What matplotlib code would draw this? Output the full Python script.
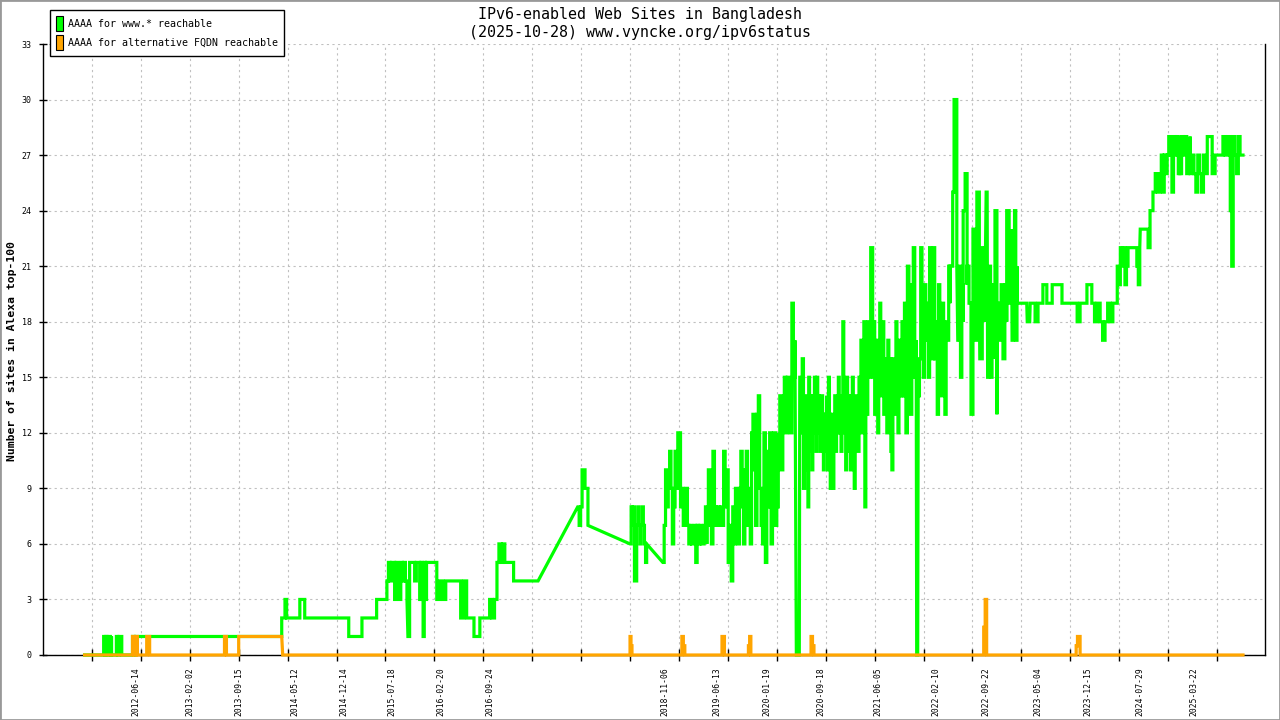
import numpy as np
import matplotlib
matplotlib.use("Agg")
import matplotlib.pyplot as plt
from matplotlib.patches import Patch, Rectangle

plt.rcParams["font.family"] = ["DejaVu Sans Mono"]

# x positions are in tick-interval units (one unit = one grid step on the time axis)
title_lines = ["IPv6-enabled Web Sites in Bangladesh", "(2025-10-28) www.vyncke.org/ipv6status"]
y_label = "Number of sites in Alexa top-100"
legend_labels = ["AAAA for www.* reachable", "AAAA for alternative FQDN reachable"]

date_labels = ["2012-06-14", "2013-02-02", "2013-09-15", "2014-05-12", "2014-12-14",
               "2015-07-18", "2016-02-20", "2016-09-24", "2018-11-06", "2019-06-13",
               "2020-01-19", "2020-09-18", "2021-06-05", "2022-02-10", "2022-09-22",
               "2023-05-04", "2023-12-15", "2024-07-29", "2025-03-22"]
date_label_pos = [1.91, 3.00, 4.00, 5.15, 6.15, 7.14, 8.13, 9.13, 12.71, 13.78,
                  14.80, 15.90, 17.06, 18.25, 19.28, 20.34, 21.36, 22.43, 23.53]

# (start, end, values sampled across the span); steps inside a span,
# straight lines between spans
www_segments = [
    (0.85, 1.24, [0, 0]),
    (1.24, 1.40, [1, 0, 1, 0, 1, 1, 0, 1]),
    (1.40, 1.50, [0, 0]),
    (1.50, 1.61, [1, 0, 1, 1, 0]),
    (1.61, 1.83, [0, 0]),
    (1.83, 1.93, [1, 0, 1, 1]),
    (1.93, 4.88, [1, 1]),
    (4.88, 4.98, [2, 2, 3, 2]),
    (4.98, 5.25, [2, 2]),
    (5.25, 5.35, [3, 3, 2]),
    (5.35, 6.25, [2, 2]),
    (6.25, 6.52, [1, 1]),
    (6.52, 6.82, [2, 2]),
    (6.82, 7.03, [3, 3]),
    (7.03, 7.44, [4, 5, 4, 5, 5, 3, 5, 4, 3, 5, 4, 5, 4, 3]),
    (7.46, 7.70, [1, 5, 5, 5, 4, 5, 5, 5]),
    (7.70, 7.84, [3, 5, 4, 1, 5, 3, 5]),
    (7.84, 8.05, [5, 5, 5]),
    (8.05, 8.66, [3, 4, 3, 4, 4, 4, 4, 4, 2, 4, 4]),
    (8.66, 8.81, [2, 2]),
    (8.81, 8.93, [1, 1, 1]),
    (8.93, 9.13, [2, 2]),
    (9.13, 9.28, [3, 2, 3, 3]),
    (9.28, 9.44, [5, 6, 5, 6, 5]),
    (9.44, 9.62, [5, 5]),
    (9.62, 10.12, [4, 4]),
    (10.93, 11.14, [8, 7, 8, 10, 10, 9, 9, 7]),
    (12.00, 12.34, [6, 8, 7, 8, 4, 4, 7, 8, 7, 6, 7, 8, 7, 6, 5, 6]),
    (12.67, 13.06, [5, 7, 10, 8, 9, 11, 9, 6, 8, 11, 9, 12, 12, 8, 9]),
    (13.06, 13.57, [9, 7, 8, 9, 7, 6, 7, 6, 6, 7, 5, 7, 6, 7, 6, 6, 7, 8, 6]),
    (13.57, 14.10, [7, 10, 9, 6, 11, 8, 7, 8, 7, 8, 7, 11, 8, 10, 5, 7, 4, 6]),
    (14.10, 14.65, [8, 6, 9, 7, 6, 9, 11, 8, 6, 10, 11, 7, 9, 6, 12, 13, 10, 7, 13, 14, 11]),
    (14.65, 15.00, [9, 7, 6, 12, 5, 11, 8, 12, 6, 10, 12, 7, 12]),
    (15.00, 15.37, [8, 11, 14, 10, 13, 15, 12, 15, 14, 12, 19, 15, 17]),
    (15.40, 15.46, [0, 0]),
    (15.47, 15.62, [15, 12, 16, 9, 14, 10, 13]),
    (15.62, 16.02, [12, 8, 15, 11, 13, 14, 10, 14, 12, 15, 13, 11, 15, 12, 14, 13,
                    11, 12, 14, 13, 10, 12, 13, 11, 14]),
    (16.02, 16.35, [12, 10, 15, 13, 9, 13, 11, 9, 12, 14, 11, 13, 12, 15, 14, 12,
                    11, 13, 14]),
    (16.35, 16.70, [18, 13, 12, 10, 15, 12, 14, 11, 10, 13, 15, 12, 9, 12, 14, 13,
                    11, 15, 12]),
    (16.70, 16.96, [14, 17, 12, 15, 18, 8, 16, 13, 18, 15, 17, 22, 22, 16]),
    (16.96, 17.58, [15, 18, 13, 17, 14, 12, 16, 19, 14, 17, 18, 13, 16, 15, 12, 17,
                    14, 16, 11, 10, 16, 13, 15, 18, 15, 12, 17, 16, 14, 18, 15]),
    (17.58, 17.85, [14, 19, 12, 21, 16, 13, 20, 22, 15, 17]),
    (17.86, 17.88, [0, 0]),
    (17.89, 18.54, [14, 16, 22, 18, 15, 20, 17, 19, 15, 22, 19, 16, 22, 16, 18, 13,
                    20, 17, 14, 19, 16, 13, 18, 17, 21, 19]),
    (18.54, 18.68, [21, 21, 25, 30, 30, 21]),
    (18.70, 18.81, [17, 21, 15, 20, 18]),
    (18.81, 18.89, [24, 26, 20]),
    (18.89, 19.01, [21, 19, 13, 20]),
    (19.01, 19.09, [23, 17, 22]),
    (19.09, 19.14, [25, 19]),
    (19.15, 19.25, [16, 22, 18]),
    (19.28, 19.30, [25, 25]),
    (19.31, 19.46, [15, 21, 15, 18, 20, 16]),
    (19.46, 19.50, [24, 13]),
    (19.51, 19.70, [19, 17, 20, 16, 20, 18]),
    (19.70, 19.80, [24, 19, 23]),
    (19.81, 19.91, [17, 21, 24, 17, 21]),
    (19.91, 20.11, [19, 19]),
    (20.12, 20.17, [18, 18]),
    (20.18, 20.28, [19, 19]),
    (20.28, 20.34, [18, 18]),
    (20.34, 20.44, [19, 19]),
    (20.44, 20.52, [20, 20]),
    (20.52, 20.63, [19, 19]),
    (20.63, 20.83, [20, 20]),
    (20.83, 21.14, [19, 19]),
    (21.14, 21.20, [18, 18]),
    (21.20, 21.34, [19, 19]),
    (21.34, 21.44, [20, 20]),
    (21.44, 21.55, [19, 18, 19]),
    (21.55, 21.61, [19, 19]),
    (21.61, 21.71, [18, 17, 18]),
    (21.71, 21.87, [18, 19, 18, 19]),
    (21.87, 21.96, [19, 20]),
    (21.96, 22.18, [21, 20, 22, 21, 22, 20, 21, 22]),
    (22.18, 22.36, [22, 22]),
    (22.36, 22.42, [21, 20, 22]),
    (22.43, 22.59, [23, 23]),
    (22.59, 22.63, [22, 22]),
    (22.63, 22.69, [24, 24]),
    (22.69, 22.83, [25, 26, 25, 26]),
    (22.83, 22.98, [26, 27, 25, 27, 26, 27]),
    (22.98, 23.24, [27, 28, 27, 25, 28, 27, 28, 26, 28]),
    (23.24, 23.45, [26, 28, 27, 28, 26, 27, 28]),
    (23.45, 23.80, [26, 27, 26, 25, 27, 26, 25, 27, 26, 27]),
    (23.80, 23.90, [28, 28]),
    (23.90, 23.96, [26, 27]),
    (23.96, 24.12, [27, 27]),
    (24.12, 24.27, [28, 27, 28, 27]),
    (24.27, 24.33, [24, 21, 25]),
    (24.33, 24.47, [28, 27, 26, 28, 27]),
    (24.47, 24.53, [27, 27]),
]

alt_segments = [
    (0.85, 1.83, [0, 0]),
    (1.83, 1.93, [1, 0, 1, 0]),
    (1.93, 2.12, [0, 0]),
    (2.12, 2.18, [1, 0]),
    (2.18, 3.71, [0, 0]),
    (3.71, 3.75, [1, 0]),
    (3.75, 4.00, [0, 0]),
    (4.00, 4.88, [1, 1]),
    (4.90, 12.00, [0, 0]),
    (12.00, 12.04, [1, 0.5, 0]),
    (12.04, 13.06, [0, 0]),
    (13.06, 13.12, [1, 0.5, 0]),
    (13.12, 13.88, [0, 0]),
    (13.88, 13.93, [1, 1, 0]),
    (13.93, 14.42, [0, 0]),
    (14.42, 14.47, [0.5, 1, 0]),
    (14.47, 15.70, [0, 0]),
    (15.70, 15.76, [1, 0.5, 0]),
    (15.76, 19.23, [0, 0]),
    (19.23, 19.29, [1.5, 3, 0]),
    (19.29, 21.12, [0, 0]),
    (21.12, 21.20, [0.5, 1, 1, 0]),
    (21.20, 24.53, [0, 0]),
]


def build(segments):
    xs, ys = [], []
    for start, end, vals in segments:
        pos = np.linspace(start, end, len(vals))
        for i, v in enumerate(vals):
            xs.append(pos[i])
            ys.append(v)
            if i + 1 < len(vals):
                xs.append(pos[i + 1])
                ys.append(v)
    return np.array(xs), np.array(ys)


green = "#00ff00"
orange = "#ffa500"

fig = plt.figure(figsize=(12.8, 7.2), dpi=100)
ax = fig.add_axes([43 / 1280, 1 - 655 / 720, (1265 - 43) / 1280, (655 - 44) / 720])

wx, wy = build(www_segments)
ox, oy = build(alt_segments)
ax.plot(wx, wy, color=green, lw=2.3, clip_on=False, zorder=3, solid_joinstyle="miter")
ax.plot(ox, oy, color=orange, lw=2.3, clip_on=False, zorder=4, solid_joinstyle="miter")

ax.set_xlim(0, 24.98)
ax.set_ylim(0, 33)
ax.set_yticks(range(0, 34, 3))
ax.xaxis.remove_overlapping_locs = False
ax.set_xticks(range(1, 25))
ax.set_xticklabels([])
ax.set_xticks(date_label_pos, minor=True)
ax.set_xticklabels(date_labels, minor=True)

ax.tick_params(axis="x", which="major", direction="inout", length=8, width=1)
ax.tick_params(axis="x", which="minor", length=0, pad=8.5, labelsize=5.8, labelrotation=90)
ax.tick_params(axis="y", direction="inout", length=6, width=1, pad=5, labelsize=6)

for side in ["left", "bottom", "right"]:
    ax.spines[side].set_linewidth(1)
    ax.spines[side].set_color("black")
ax.spines["top"].set_visible(False)

ax.grid(True, which="major", color="#c0c0c0", linestyle=(0, (2, 3)), lw=0.8, zorder=0)
ax.set_axisbelow(True)

for i, line in enumerate(title_lines):
    fig.text(0.5, 1 - (14 + 19 * i) / 720, line, ha="center", va="center", fontsize=10.8)

fig.text(12 / 1280, 1 - 351 / 720, y_label, rotation=90, ha="center", va="center",
         fontsize=8.2, fontweight="bold")

handles = [Patch(facecolor=green, edgecolor="black", lw=0.8),
           Patch(facecolor=orange, edgecolor="black", lw=0.8)]
leg = ax.legend(handles, legend_labels, loc="upper left",
                bbox_to_anchor=(50 / 1280, 1 - 10 / 720), bbox_transform=fig.transFigure,
                borderaxespad=0, fontsize=7.2, handlelength=0.7, handleheight=2.0,
                handletextpad=0.45, labelspacing=0.35, borderpad=0.6, fancybox=False,
                framealpha=1, edgecolor="black")
leg.get_frame().set_linewidth(1)

fig.patches.append(Rectangle((0, 0), 1, 1, transform=fig.transFigure, fill=False,
                             edgecolor="#999999", lw=2))

fig.savefig("out.png", dpi=100)
